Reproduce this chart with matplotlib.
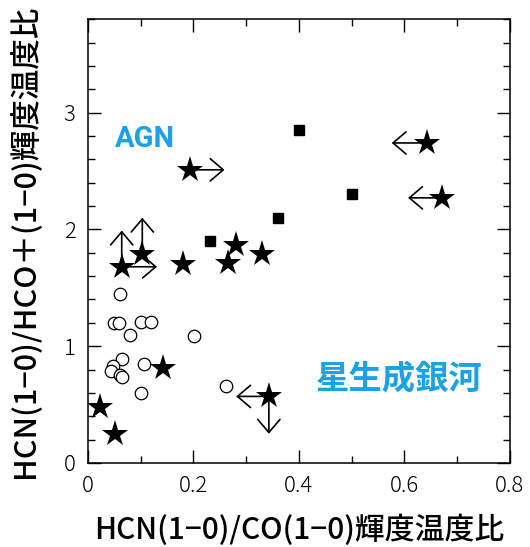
import matplotlib
matplotlib.use("Agg")
import matplotlib.pyplot as plt
from matplotlib.ticker import MultipleLocator

plt.rcParams['font.family'] = ['Noto Sans CJK JP', 'DejaVu Sans']

blue = '#19a2e6'

# AGN (filled squares)
agn_x = [0.400, 0.501, 0.361, 0.231]
agn_y = [2.85, 2.30, 2.10, 1.90]

# star-forming galaxies (open circles)
sf_x = [0.060, 0.049, 0.059, 0.080, 0.101, 0.120, 0.201, 0.065, 0.047,
        0.044, 0.061, 0.065, 0.106, 0.101, 0.261]
sf_y = [1.45, 1.20, 1.20, 1.10, 1.21, 1.21, 1.09, 0.89, 0.83,
        0.79, 0.75, 0.74, 0.85, 0.60, 0.66]

# stars
st_x = [0.642, 0.672, 0.193, 0.064, 0.103, 0.180, 0.281, 0.266, 0.330,
        0.142, 0.343, 0.022, 0.051]
st_y = [2.74, 2.27, 2.51, 1.68, 1.79, 1.70, 1.87, 1.71, 1.79,
        0.81, 0.57, 0.48, 0.25]

# limit arrows: (start x, start y, end x, end y)
arrows = [
    (0.642, 2.74, 0.576, 2.74),
    (0.672, 2.27, 0.607, 2.27),
    (0.193, 2.51, 0.259, 2.51),
    (0.064, 1.68, 0.064, 1.99),
    (0.064, 1.68, 0.131, 1.68),
    (0.103, 1.79, 0.103, 2.10),
    (0.343, 0.57, 0.281, 0.57),
    (0.343, 0.57, 0.343, 0.25),
]

fig = plt.figure(figsize=(5.30, 5.47), dpi=100)
ax = fig.add_axes([0.166, 0.1536, 0.796, 0.8114])

for x0, y0, x1, y1 in arrows:
    ax.annotate('', xy=(x1, y1), xytext=(x0, y0),
                arrowprops=dict(arrowstyle='->,head_length=0.47,head_width=0.4',
                                mutation_scale=20, color='black', lw=1.2,
                                shrinkA=0, shrinkB=0))

ax.plot(sf_x, sf_y, 'o', ms=9, mfc='white', mec='black', mew=0.9)
ax.plot(agn_x, agn_y, 's', ms=6.5, color='black')
ax.plot(st_x, st_y, '*', ms=20, color='black', mew=0)

ax.text(0.051, 2.77, 'AGN', color=blue, fontsize=21, fontweight='bold',
        ha='left', va='center', family=['Roboto', 'DejaVu Sans'])
ax.text(0.591, 0.72, '星生成銀河', color=blue, fontsize=24, fontweight='bold',
        ha='center', va='center')

ax.set_xlim(0, 0.8)
ax.set_ylim(0, 3.8)
ax.xaxis.set_major_locator(MultipleLocator(0.2))
ax.xaxis.set_minor_locator(MultipleLocator(0.1))
ax.yaxis.set_major_locator(MultipleLocator(1))
ax.yaxis.set_minor_locator(MultipleLocator(0.2))
ax.set_xticks([0, 0.2, 0.4, 0.6, 0.8])
ax.set_xticklabels(['0', '0.2', '0.4', '0.6', '0.8'])
ax.set_yticks([0, 1, 2, 3])
ax.set_yticklabels(['0', '1', '2', '3'])

ax.tick_params(which='both', direction='in', top=True, right=True, width=1.0)
ax.tick_params(which='major', length=9.5, labelsize=16, pad=9)
ax.tick_params(which='minor', length=5)
for lab in ax.get_xticklabels() + ax.get_yticklabels():
    lab.set_fontweight('light')
for s in ax.spines.values():
    s.set_linewidth(1.1)

ax.set_xlabel('HCN(1−0)/CO(1−0)輝度温度比', fontsize=21.5, fontweight='medium',
              labelpad=12)
ax.set_ylabel('HCN(1−0)/HCO＋(1−0)輝度温度比', fontsize=22, fontweight='medium',
              labelpad=16)

fig.savefig('out.png', dpi=100)
